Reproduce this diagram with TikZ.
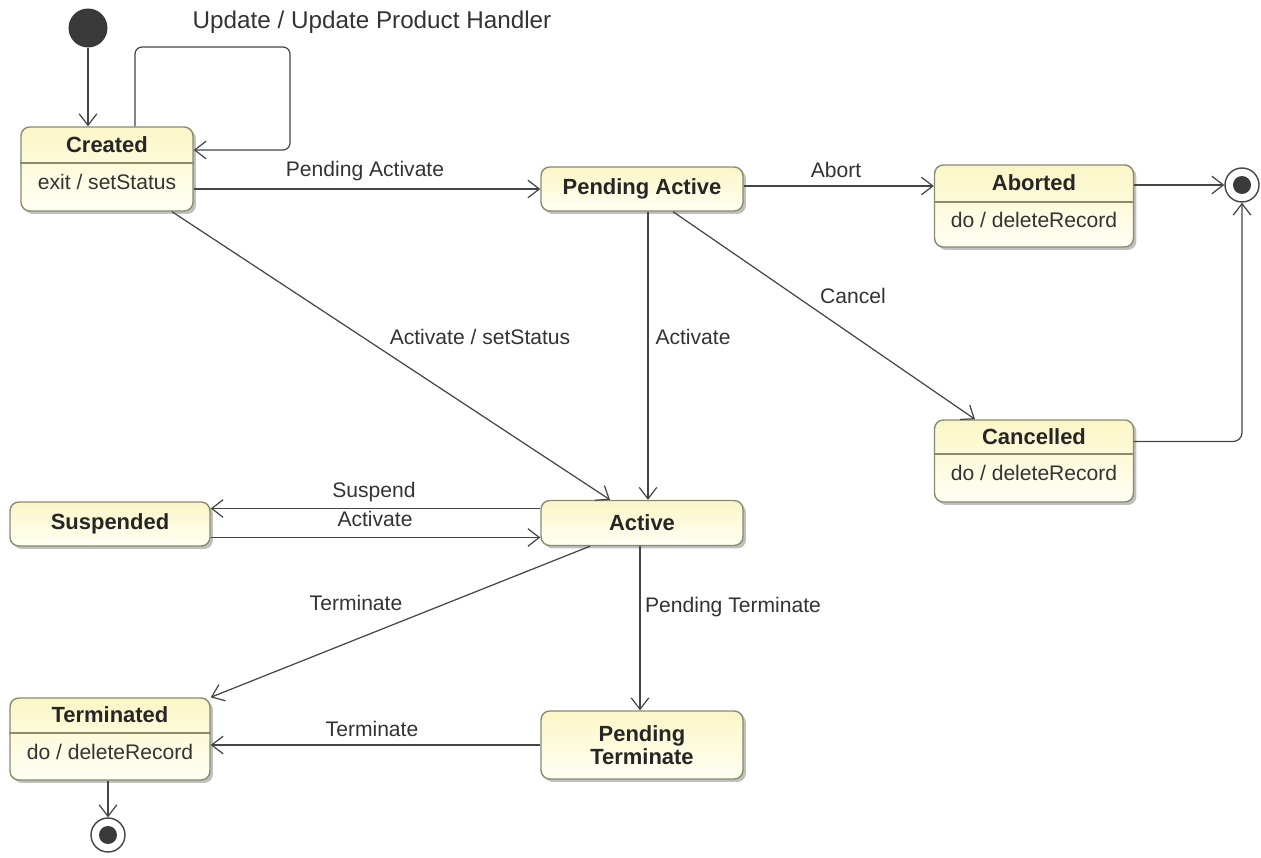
\documentclass[tikz,border=0pt]{standalone}
\usepackage{fontspec}
\setmainfont{Liberation Sans}
\usetikzlibrary{arrows.meta,shadows}

\definecolor{stateborder}{HTML}{8A8A6E}
\definecolor{statetop}{HTML}{FBF6C6}
\definecolor{statebot}{HTML}{FFFFF4}
\definecolor{edgegray}{HTML}{454545}
\definecolor{textgray}{HTML}{333333}
\definecolor{dotgray}{HTML}{3A3A3A}

\tikzset{
	state/.style={draw=stateborder, line width=0.8pt, rounded corners=5pt, top color=statetop, bottom color=statebot,
		drop shadow={shadow xshift=0.06cm, shadow yshift=-0.06cm, fill=black!45, opacity=0.55}, inner sep=0pt},
	statetitle/.style={font=\fontsize{12.5}{13}\selectfont\bfseries, text=black!85},
	statebody/.style={font=\fontsize{12}{14}\selectfont, text=textgray},
	divider/.style={draw=stateborder, line width=0.6pt},
	trans/.style={draw=edgegray, line width=0.7pt, -{Straight Barb[length=6.5pt,width=10pt]}},
	translabel/.style={font=\fontsize{12}{14}\selectfont, text=textgray},
	initstate/.style={circle, fill=dotgray, minimum size=0.78cm, inner sep=0pt},
	finalstate/.style={circle, draw=edgegray, line width=0.8pt, fill=white, minimum size=0.68cm, inner sep=0pt,
		path picture={\fill[dotgray] (path picture bounding box.center) circle (0.18cm);}},
}

\begin{document}
\begin{tikzpicture}[x=0.02cm, y=-0.02cm]
			%%%%% START %%%%%
			\useasboundingbox (0, 0) rectangle (1261, 858);
			
			\node[initstate] (init) at (88, 28) {};
			\node[finalstate] (fin1) at (1242, 185) {};
			\node[finalstate] (fin2) at (108, 835) {};
			
			\node[state, minimum width=3.44cm, minimum height=1.68cm] (created) at (107, 169) {};
			\node[statetitle] (createdtitle) at (107, 145) {Created};
			\node[statebody] (createdbody) at (107, 182) {exit / setStatus};
			\draw[divider] (created.west |- 0, 163) -- (created.east |- 0, 163);
			
			\node[state, minimum width=4.04cm, minimum height=0.88cm, statetitle] (pendact) at (642, 189) {Pending Active};
			
			\node[state, minimum width=3.98cm, minimum height=1.64cm] (aborted) at (1034, 206) {};
			\node[statetitle] (abortedtitle) at (1034, 183) {Aborted};
			\node[statebody] (abortedbody) at (1034, 220) {do / deleteRecord};
			\draw[divider] (aborted.west |- 0, 202) -- (aborted.east |- 0, 202);
			
			\node[state, minimum width=3.98cm, minimum height=1.64cm] (cancelled) at (1034, 461) {};
			\node[statetitle] (cancelledtitle) at (1034, 437) {Cancelled};
			\node[statebody] (cancelledbody) at (1034, 473) {do / deleteRecord};
			\draw[divider] (cancelled.west |- 0, 454) -- (cancelled.east |- 0, 454);
			
			\node[state, minimum width=4.04cm, minimum height=0.9cm, statetitle] (active) at (642, 523) {Active};
			\node[state, minimum width=4.0cm, minimum height=0.88cm, statetitle] (suspended) at (110, 524) {Suspended};
			\node[state, minimum width=4.04cm, minimum height=1.36cm, statetitle, align=center] (pendterm) at (642, 745) {Pending\\Terminate};
			
			\node[state, minimum width=4.0cm, minimum height=1.64cm] (terminated) at (110, 739) {};
			\node[statetitle] (terminatedtitle) at (110, 715) {Terminated};
			\node[statebody] (terminatedbody) at (110, 752) {do / deleteRecord};
			\draw[divider] (terminated.west |- 0, 733) -- (terminated.east |- 0, 733);
			
			% transitions
			\coordinate (loopcorner) at (290, 47);
			\draw[trans] (init) -- (init |- created.north);
			\draw[trans, rounded corners=4pt] ([xshift=0.56cm]created.north) |- (loopcorner) |- ([yshift=0.38cm]created.east);
			\draw[trans] (created.east |- pendact.west) -- (pendact.west);
			\draw[trans] ([yshift=0.06cm]pendact.east) -- ([yshift=0.06cm]pendact.east -| aborted.west);
			\draw[trans] (aborted.east |- fin1.west) -- (fin1.west);
			\draw[trans, rounded corners=5pt] ([yshift=0.39cm]cancelled.east) -| (fin1.south);
			\draw[trans] ([xshift=0.62cm]pendact.south) -- ([xshift=-1.18cm]cancelled.north);
			\draw[trans] ([xshift=0.12cm]pendact.south) -- ([xshift=0.12cm]active.north);
			\draw[trans] ([xshift=1.3cm]created.south) -- ([xshift=-0.64cm]active.north);
			\draw[trans] ([yshift=0.29cm]active.west) -- ([yshift=0.29cm]active.west -| suspended.east);
			\draw[trans] ([yshift=-0.27cm]suspended.east) -- ([yshift=-0.27cm]suspended.east -| active.west);
			\draw[trans] ([xshift=-1.04cm]active.south) -- (terminated.north east);
			\draw[trans] ([xshift=-0.04cm]active.south) -- ([xshift=-0.04cm]pendterm.north);
			\draw[trans] (pendterm.west) -- (pendterm.west -| terminated.east);
			\draw[trans] (fin2 |- terminated.south) -- (fin2.north);
			
			% transition labels
			\node[translabel, font=\fontsize{13.8}{16}\selectfont] (lupdate) at (372, 22) {Update / Update Product Handler};
			\node[translabel] (lpendact) at (365, 171) {Pending Activate};
			\node[translabel] (labort) at (836, 170) {Abort};
			\node[translabel] (lcancel) at (853, 296) {Cancel};
			\node[translabel] (lactivate) at (693, 337) {Activate};
			\node[translabel] (lactset) at (480, 337) {Activate / setStatus};
			\node[translabel] (lsuspend) at (374, 492) {Suspend};
			\node[translabel] (lresume) at (375, 519) {Activate};
			\node[translabel] (lterminate) at (356, 603) {Terminate};
			\node[translabel] (lpendterm) at (733, 607) {Pending Terminate};
			\node[translabel] (lterminate2) at (372, 729) {Terminate};
			
			%%%%% END %%%%%
\end{tikzpicture}
\end{document}
